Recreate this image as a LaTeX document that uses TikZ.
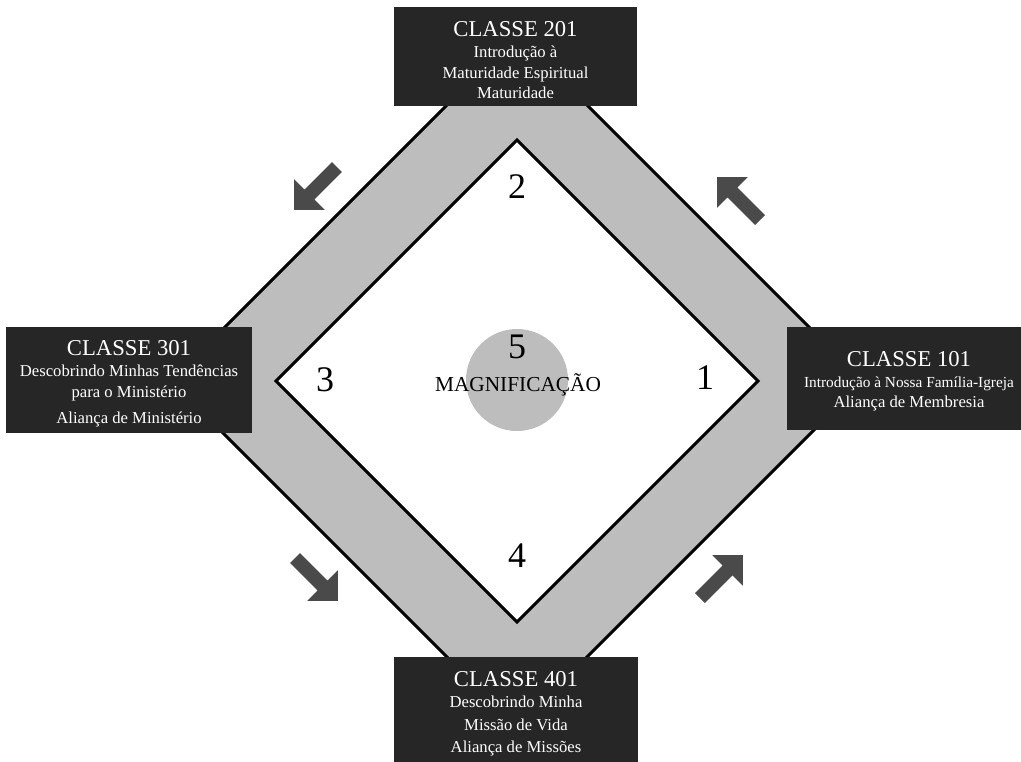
\documentclass[tikz,border=0pt]{standalone}
\usepackage{fontspec}
\setmainfont{Liberation Serif}
\usepackage{tikz}
\usetikzlibrary{calc}
\definecolor{bandgray}{HTML}{BDBDBD}
\definecolor{boxdark}{HTML}{262626}
\definecolor{arrowgray}{HTML}{4A4A4A}
\tikzset{
  classbox/.style={fill=boxdark, inner sep=0pt},
  classtext/.style={text=white, align=center, inner sep=0pt,
    font=\fontsize{12.5}{15.5}\selectfont},
  stagenum/.style={inner sep=0pt, font=\fontsize{27}{27}\selectfont},
  flowarrow/.style={fill=arrowgray}
}
\newcommand{\classtitle}[1]{{\fontsize{17}{20}\selectfont #1}}
\begin{document}
\begin{tikzpicture}[x=0.75pt,y=-0.75pt]
		\useasboundingbox (0,0) rectangle (1021,761);
		% band of the path
		\coordinate (o1) at (863,381);
		\coordinate (o2) at (517,35);
		\coordinate (o3) at (171,381);
		\coordinate (o4) at (517,727);
		\coordinate (i1) at (758,381);
		\coordinate (i2) at (517,140);
		\coordinate (i3) at (276,381);
		\coordinate (i4) at (517,622);
		\filldraw[fill=bandgray, line width=2.25pt, line join=miter](o1)--(o2)--(o3)--(o4)--cycle;
		\filldraw[fill=white, line width=2.25pt, line join=miter](i1)--(i2)--(i3)--(i4)--cycle;
		\fill[bandgray](517,380) circle (38.25pt);
		% stages
		\node[stagenum] (n1) at (705,378) {1};
		\node[stagenum] (n2) at (517,187) {2};
		\node[stagenum] (n3) at (325,380) {3};
		\node[stagenum] (n4) at (517,556) {4};
		\node[stagenum] (n5) at (517,347) {5};
		\node[inner sep=0pt, font=\fontsize{16}{16}\selectfont] (mag) at (518,385) {MAGNIFICAÇÃO};
		% classes
		\node[classbox, minimum width=182.25pt, minimum height=74.25pt] (c201) at (515.5,56.5) {};
		\node[classtext] (t201) at ($(c201)+(0,4)$)
			{\classtitle{CLASSE 201}\\Introdução à\\Maturidade Espiritual\\Maturidade};
		\node[classbox, minimum width=184.5pt, minimum height=79.5pt] (c301) at (129,380) {};
		\node[classtext] (t301) at ($(c301)+(0,4)$)
			{\classtitle{CLASSE 301}\\Descobrindo Minhas Tendências\\para o Ministério\\[4.5pt]Aliança de Ministério};
		\node[classbox, minimum width=183pt, minimum height=77.25pt] (c101) at (909,378.5) {};
		\node[classtext] (t101) at ($(c101)+(0,3)$)
			{\classtitle{CLASSE 101}\\{\fontsize{11.5}{15.5}\selectfont Introdução à Nossa Família-Igreja}\\Aliança de Membresia};
		\node[classbox, minimum width=183pt, minimum height=82.5pt] (c401) at (516,712) {};
		\node[classtext] (t401) at ($(c401)+(0,2)$)
			{\classtitle{CLASSE 401}\\Descobrindo Minha\\[1.5pt]Missão de Vida\\[1.5pt]Aliança de Missões};
		% direction of the path
		\fill[flowarrow, shift={(337,167)}, rotate=225](0,-7)--(39,-7)--(39,-21.5)--(60.5,0)--(39,21.5)--(39,7)--(0,7)--cycle;
		\fill[flowarrow, shift={(760,220)}, rotate=135](0,-7)--(39,-7)--(39,-21.5)--(60.5,0)--(39,21.5)--(39,7)--(0,7)--cycle;
		\fill[flowarrow, shift={(295,558)}, rotate=315](0,-7)--(39,-7)--(39,-21.5)--(60.5,0)--(39,21.5)--(39,7)--(0,7)--cycle;
		\fill[flowarrow, shift={(700,598)}, rotate=45](0,-7)--(39,-7)--(39,-21.5)--(60.5,0)--(39,21.5)--(39,7)--(0,7)--cycle;
	\end{tikzpicture}
\end{document}
